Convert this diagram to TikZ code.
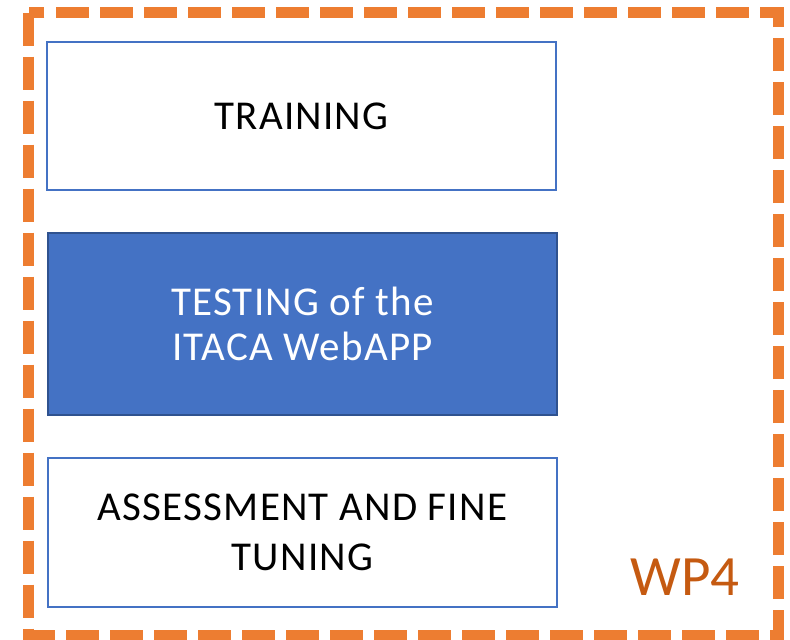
\documentclass[tikz,border=0pt]{standalone}
\usepackage{fontspec}
\setmainfont{Carlito}
\newfontfamily\boxfont[LetterSpace=3]{Carlito}
\usetikzlibrary{shapes,positioning}
\definecolor{wporange}{HTML}{ED7D31}
\definecolor{wptext}{HTML}{C55A11}
\definecolor{boxblue}{HTML}{4472C4}
\definecolor{boxedge}{HTML}{2F528F}

\begin{document}
\begin{tikzpicture}[x=1pt,y=-1pt]

  \useasboundingbox (0,0) rectangle (790,640);

  \coordinate (FrameNW) at (28.5,12.5);
  \coordinate (FrameSE) at (778,635);
  \coordinate (Train) at (301.5,116);
  \coordinate (Test) at (302.5,324);
  \coordinate (Assess) at (302.5,532.5);
  \coordinate (Label) at (685,577);

  \tikzstyle{frame}=[draw=wporange,line width=11pt,
                     dash pattern=on 33pt off 11pt];
  \tikzstyle{wbox}=[draw=boxblue,line width=2pt,
                    shape=rectangle,fill=white,
                    minimum width=509pt,minimum height=148pt,
                    align=center,text=black,
                    font=\boxfont\fontsize{41}{45}\selectfont];
  \tikzstyle{bbox}=[wbox,draw=boxedge,fill=boxblue,text=white,
                    minimum height=182pt];

  % dashed work package frame
  \draw[frame] (FrameNW) rectangle (FrameSE);

  \node[wbox] (TrainBox) at (Train) {TRAINING};

  \node[bbox] (TestBox) at (Test) {TESTING of the\\ ITACA WebAPP};

  \node[wbox,minimum height=149pt] (AssessBox) at (Assess)
       {ASSESSMENT AND FINE\\[5pt] TUNING};

  \node[text=wptext,font=\fontsize{57}{60}\selectfont] (WPLabel) at (Label) {WP4};
\end{tikzpicture}
\end{document}
